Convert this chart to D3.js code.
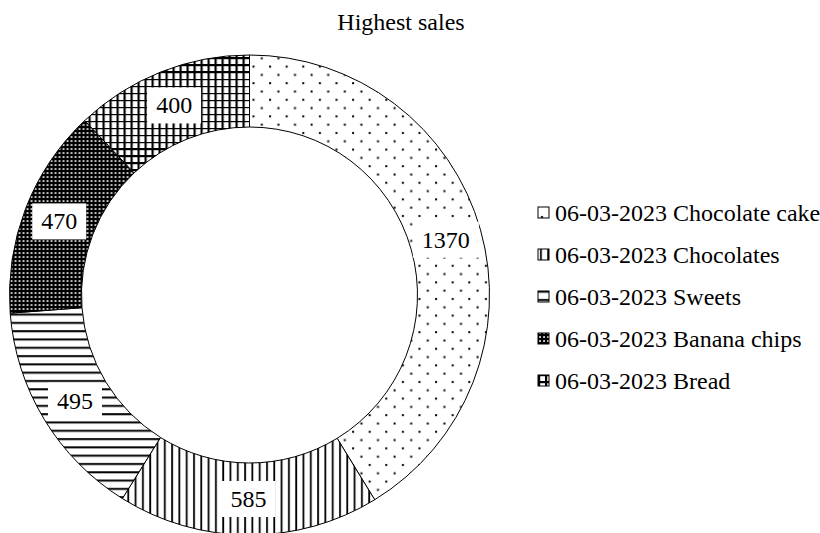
<!DOCTYPE html>
<html>
<head>
<meta charset="utf-8">
<script src="https://cdn.jsdelivr.net/npm/d3@7"></script>
<style>
  body { margin: 0; background: #fff; }
</style>
</head>
<body>
<div id="chart-area"></div>
<script>
// data
var categories = ["06-03-2023 Chocolate cake", "06-03-2023 Chocolates", "06-03-2023 Sweets",
                  "06-03-2023 Banana chips", "06-03-2023 Bread"];
var values = [1370, 585, 495, 470, 400];
var patternIds = ["p-dots", "p-vert", "p-horiz", "p-dense", "p-grid"];
var title = "Highest sales";

var width = 820, height = 533;
var cx = 249.5, cy = 295;
var outerR = 240, innerR = 168;
var font = "'Liberation Serif', 'DejaVu Serif', 'Times New Roman', serif";

var svg = d3.select('#chart-area').append('svg')
    .attr('width', width)
    .attr('height', height);

// patterns
var defs = svg.append('defs');

var pDots = defs.append('pattern').attr('id', 'p-dots')
    .attr('patternUnits', 'userSpaceOnUse').attr('width', 16.6).attr('height', 16.6);
pDots.append('rect').attr('width', 16.6).attr('height', 16.6).attr('fill', '#fff');
pDots.append('rect').attr('x', 3).attr('y', 3).attr('width', 2).attr('height', 2).attr('fill', '#000');
pDots.append('rect').attr('x', 11.3).attr('y', 11.3).attr('width', 2).attr('height', 2).attr('fill', '#000');

var pVert = defs.append('pattern').attr('id', 'p-vert')
    .attr('patternUnits', 'userSpaceOnUse').attr('width', 7.3).attr('height', 7.3);
pVert.append('rect').attr('width', 7.3).attr('height', 7.3).attr('fill', '#fff');
pVert.append('rect').attr('x', 2).attr('width', 1.8).attr('height', 7.3).attr('fill', '#000');

var pHoriz = defs.append('pattern').attr('id', 'p-horiz')
    .attr('patternUnits', 'userSpaceOnUse').attr('width', 8.3).attr('height', 8.3);
pHoriz.append('rect').attr('width', 8.3).attr('height', 8.3).attr('fill', '#fff');
pHoriz.append('rect').attr('y', 2).attr('width', 8.3).attr('height', 2).attr('fill', '#000');

var pDense = defs.append('pattern').attr('id', 'p-dense')
    .attr('patternUnits', 'userSpaceOnUse').attr('width', 4).attr('height', 4);
pDense.append('rect').attr('width', 4).attr('height', 4).attr('fill', '#000');
pDense.append('rect').attr('x', 1.2).attr('y', 1.2).attr('width', 1.7).attr('height', 1.7).attr('fill', '#fff');

var pGrid = defs.append('pattern').attr('id', 'p-grid')
    .attr('patternUnits', 'userSpaceOnUse').attr('width', 7).attr('height', 7);
pGrid.append('rect').attr('width', 7).attr('height', 7).attr('fill', '#fff');
pGrid.append('rect').attr('x', 0).attr('width', 2.2).attr('height', 7).attr('fill', '#000');
pGrid.append('rect').attr('y', 0).attr('width', 7).attr('height', 2.2).attr('fill', '#000');

// title
svg.append('text')
    .attr('x', 401)
    .attr('y', 30)
    .attr('text-anchor', 'middle')
    .attr('font-family', font)
    .attr('font-size', 24)
    .text(title);

// donut
var pie = d3.pie().sort(null).value(function(d){ return d; });
var arc = d3.arc().innerRadius(innerR).outerRadius(outerR);

var g = svg.append('g')
    .attr('transform', 'translate(' + cx + ',' + cy + ')');

var slices = g.selectAll('.slice')
    .data(pie(values))
    .enter()
    .append('g')
    .attr('class', 'slice');

slices.append('path')
    .attr('d', arc)
    .attr('fill', function(d, i){ return 'url(#' + patternIds[i] + ')'; })
    .attr('stroke', '#000')
    .attr('stroke-width', 1);

// labels sit on a white box
slices.each(function(d){
    var c = arc.centroid(d);
    var s = d3.select(this);
    var txt = String(d.data);
    var w = txt.length * 12 + 18;
    s.append('rect')
        .attr('x', c[0] - w / 2)
        .attr('y', c[1] - 18)
        .attr('width', w)
        .attr('height', 36)
        .attr('fill', '#fff');
    s.append('text')
        .attr('x', c[0])
        .attr('y', c[1] + 8)
        .attr('text-anchor', 'middle')
        .attr('font-family', font)
        .attr('font-size', 24)
        .text(txt);
});

// legend
var legend = svg.append('g')
    .attr('transform', 'translate(538,213)');

var item = legend.selectAll('.item')
    .data(categories)
    .enter()
    .append('g')
    .attr('class', 'item')
    .attr('transform', function(d, i){ return 'translate(0,' + (i * 42) + ')'; });

item.append('rect')
    .attr('x', 0)
    .attr('y', -6)
    .attr('width', 11)
    .attr('height', 11)
    .attr('fill', function(d, i){ return 'url(#' + patternIds[i] + ')'; })
    .attr('stroke', '#000')
    .attr('stroke-width', 1);

item.append('text')
    .attr('x', 17)
    .attr('y', 8)
    .attr('font-family', font)
    .attr('font-size', 24)
    .text(function(d){ return d; });
</script>
</body>
</html>
